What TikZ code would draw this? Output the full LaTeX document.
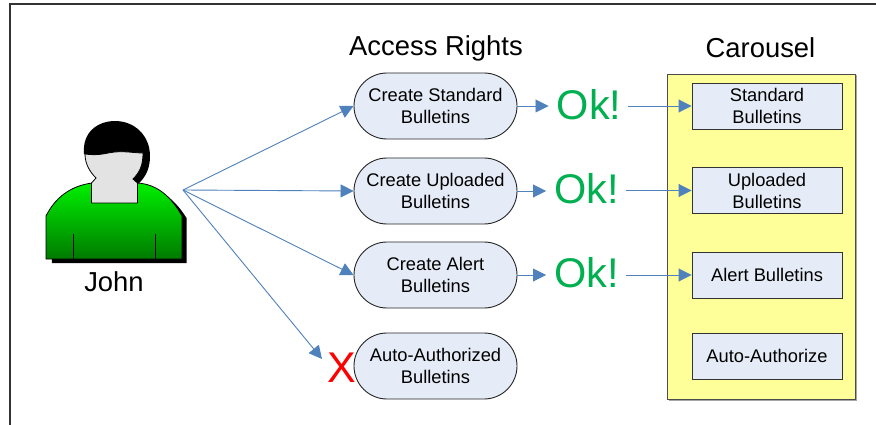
\documentclass[tikz,border=0pt]{standalone}
\usepackage{fontspec}
\setmainfont{Liberation Sans}
\usetikzlibrary{arrows.meta,shapes.misc}
\definecolor{boxfill}{HTML}{E6ECF7}
\definecolor{arrowblue}{HTML}{4F81BD}
\definecolor{okgreen}{HTML}{00B050}
\definecolor{carfill}{HTML}{FFFF99}
\definecolor{greenTop}{HTML}{00F000}
\definecolor{greenBot}{HTML}{007A00}
\tikzset{
  x=1pt,y=-1pt,
  bullet/.style={draw=black!85,line width=0.9pt,fill=boxfill,rounded rectangle,minimum width=163pt,minimum height=66pt,inner sep=0pt,align=center,font=\fontsize{18.3}{22}\selectfont},
  carbox/.style={draw=black!80,line width=0.9pt,fill=boxfill,minimum width=150pt,minimum height=46pt,inner sep=0pt,align=center,font=\fontsize{18.3}{22}\selectfont},
  link/.style={draw=arrowblue,line width=0.9pt,-{Triangle[length=13pt,width=13pt,fill=arrowblue]}},
  okin/.style={link,shorten >=8pt},
  okout/.style={link,shorten <=7pt},
  head/.style={font=\fontsize{27.4}{30}\selectfont,inner sep=0pt},
  oktext/.style={text=okgreen,font=\fontsize{41.5}{46}\selectfont,inner sep=0pt},
}
\begin{document}
\begin{tikzpicture}
\useasboundingbox (0,0) rectangle (876,425);
\fill[white] (0,0) rectangle (876,425);
\draw[black!80,line width=1.2pt] (10,425) -- (10,4) -- (876,4);
% person
\fill[black] (50.5,220) .. controls (59.5,202) and (74.5,190) .. (96.5,187) -- (141.5,187) .. controls (162.5,188) and (176.5,202) .. (186.5,218) -- (186.5,263) -- (52,263) -- cycle;
\fill[black] (84,154) .. controls (82,132) and (98,121) .. (115,121) .. controls (135,121) and (150,136) .. (150,156) .. controls (150,168) and (146,177) .. (138,184) -- (130,178) -- (100,160) -- cycle;
\draw[black,line width=0.8pt,top color=greenTop,bottom color=greenBot] (46,216) .. controls (55,198) and (70,186) .. (92,183) -- (137,183) .. controls (158,184) and (172,198) .. (182,216) -- (182,259) -- (46,259) -- cycle;
\draw[black,line width=0.8pt] (73,234) -- (73,259) (155.5,234) -- (155.5,259);
\draw[black,line width=0.8pt,fill=black!11] (85,154) .. controls (100,156) and (105,153) .. (115,152) .. controls (125,151) and (135,153) .. (143,153) .. controls (143,165) and (140,172) .. (133,179) -- (137.5,183) -- (137.5,203) -- (91.5,203) -- (91.5,183) -- (96,178) .. controls (90,172) and (85,164) .. (85,154) -- cycle;
\node[font=\fontsize{27.4}{30}\selectfont,inner sep=0pt] (john) at (114,282) {John};
\coordinate (src) at (183,190);
% headings
\node[head] (rights) at (436,48.5) {Access Rights};
\node[head] (carousel) at (760.5,48) {Carousel};
% rights
\node[bullet] (r1) at (435.5,106) {Create Standard\\Bulletins};
\node[bullet] (r2) at (435.5,191) {Create Uploaded\\Bulletins};
\node[bullet] (r3) at (435.5,275) {Create Alert\\Bulletins};
\node[bullet] (r4) at (435.5,366) {Auto-Authorized\\Bulletins};
% carousel
\fill[black!35] (668.5,75.5) rectangle (856.5,400.5);
\node[draw=black!70,line width=0.9pt,fill=carfill,minimum width=188pt,minimum height=325pt,inner sep=0pt] (car) at (761,236.5) {};
\node[carbox] (c1) at (767,106) {Standard\\Bulletins};
\node[carbox] (c2) at (767,190.5) {Uploaded\\Bulletins};
\node[carbox] (c3) at (767,275) {Alert Bulletins};
\node[carbox] (c4) at (767,356) {Auto-Authorize};
% ok
\node[oktext] (ok1) at (589,105) {Ok!};
\node[oktext] (ok2) at (586.5,188.5) {Ok!};
\node[oktext] (ok3) at (586.5,273) {Ok!};
\node[text=red,font=\fontsize{43}{46}\selectfont,inner sep=0pt] (x4) at (342,368) {X};
% connectors
\coordinate (e4) at (322,359);
\draw[link] (src) -- (r1.west);
\draw[link] (src) -- (r2.west);
\draw[link] (src) -- (r3.west);
\draw[link] (src) -- (e4);
\draw[okin] (r1.east) -- (ok1.west |- r1.east);
\draw[okin] (r2.east) -- (ok2.west |- r2.east);
\draw[okin] (r3.east) -- (ok3.west |- r3.east);
\draw[okout] (ok1.east |- c1.west) -- (c1.west);
\draw[okout] (ok2.east |- c2.west) -- (c2.west);
\draw[okout] (ok3.east |- c3.west) -- (c3.west);
\end{tikzpicture}
\end{document}
